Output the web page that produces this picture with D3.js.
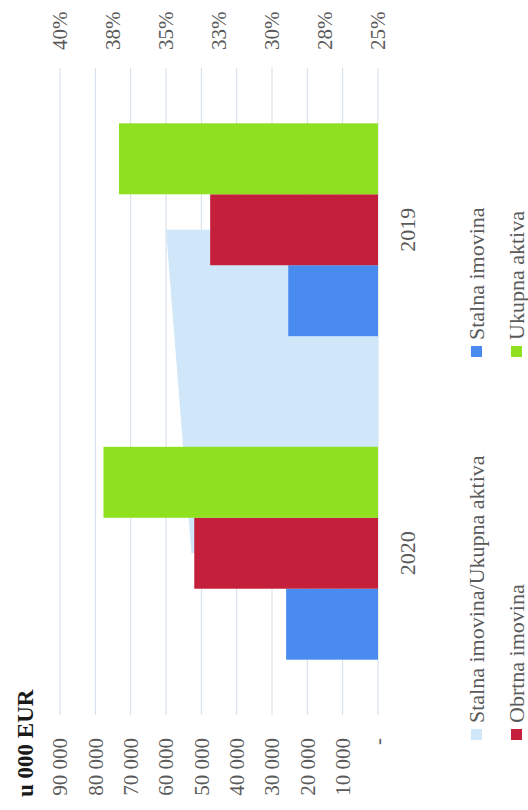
<!DOCTYPE html>
<html>
<head>
<meta charset="utf-8">
<script src="https://cdn.jsdelivr.net/npm/d3@7"></script>
<style>
  body { margin: 0; background: #fff; }
  text { font-family: "Liberation Serif", "Times New Roman", serif; }
</style>
</head>
<body>
<div id="chart"></div>
<script>
var svgWidth = 528;
var svgHeight = 810;

// chart is laid out in its own (unrotated) frame, then turned 90deg
var frameWidth = svgHeight;
var frameHeight = svgWidth;

var years = ["2020", "2019"];
var seriesNames = ["Stalna imovina", "Obrtna imovina", "Ukupna aktiva"];
var stalna = [26000, 25400];
var obrtna = [52000, 47500];
var ukupna = [77700, 73300];
var udio = [0.338, 0.350];

var valueTicks = [0, 10000, 20000, 30000, 40000, 50000, 60000, 70000, 80000, 90000];
var pctTicks = [0.25, 0.275, 0.30, 0.325, 0.35, 0.375, 0.40];
var pctLabels = ["25%", "28%", "30%", "33%", "35%", "38%", "40%"];

var colors = {
    "Stalna imovina": "#4a8bef",
    "Obrtna imovina": "#c41f3b",
    "Ukupna aktiva": "#8fe120",
    "area": "#cfe7f8"
};

var svg = d3.select("#chart")
    .append("svg")
    .attr("width", svgWidth)
    .attr("height", svgHeight);

var frame = svg.append("g")
    .attr("transform", `translate(0, ${svgHeight}) rotate(-90)`);

var plot = { left: 95, right: 742, top: 60, bottom: 378 };

var xScale = d3.scaleBand()
    .domain(years)
    .range([plot.left, plot.right])
    .paddingInner(0.342)
    .paddingOuter(0.171);

var xSeries = d3.scaleBand()
    .domain(seriesNames)
    .range([0, xScale.bandwidth()]);

var yScale = d3.scaleLinear()
    .domain([0, 90000])
    .range([plot.bottom, plot.top]);

var pctScale = d3.scaleLinear()
    .domain([0.25, 0.40])
    .range([plot.bottom, plot.top]);

// gridlines
frame.append("g")
    .selectAll("line")
    .data(valueTicks)
    .enter()
    .append("line")
    .attr("x1", plot.left)
    .attr("x2", plot.right)
    .attr("y1", d => yScale(d))
    .attr("y2", d => yScale(d))
    .attr("stroke", "#d3dde8")
    .attr("stroke-width", 1);

// share of fixed assets, as area behind the bars
var areaData = years.map((y, i) => ({ year: y, v: udio[i] }));
var areaGen = d3.area()
    .x(d => xScale(d.year) + xScale.bandwidth() / 2)
    .y0(pctScale(0.25))
    .y1(d => pctScale(d.v));

frame.append("path")
    .attr("d", areaGen(areaData))
    .attr("fill", colors.area);

// bars
var barData = [];
years.forEach(function(y, i) {
    barData.push({ year: y, name: "Stalna imovina", v: stalna[i] });
    barData.push({ year: y, name: "Obrtna imovina", v: obrtna[i] });
    barData.push({ year: y, name: "Ukupna aktiva", v: ukupna[i] });
});

frame.append("g")
    .selectAll("rect")
    .data(barData)
    .enter()
    .append("rect")
    .attr("x", d => xScale(d.year) + xSeries(d.name))
    .attr("width", xSeries.bandwidth())
    .attr("y", d => yScale(d.v))
    .attr("height", d => yScale(0) - yScale(d.v))
    .attr("fill", d => colors[d.name]);

// left value axis labels
frame.append("g")
    .selectAll("text")
    .data(valueTicks)
    .enter()
    .append("text")
    .attr("x", 72)
    .attr("y", d => yScale(d))
    .attr("dy", "0.35em")
    .attr("text-anchor", "end")
    .attr("font-size", 21)
    .attr("fill", "#595959")
    .text(d => d === 0 ? "-" : d3.format(",")(d).replace(/,/g, " "));

// right percentage axis labels
frame.append("g")
    .selectAll("text")
    .data(pctTicks)
    .enter()
    .append("text")
    .attr("x", 760)
    .attr("y", d => pctScale(d))
    .attr("dy", "0.35em")
    .attr("text-anchor", "start")
    .attr("font-size", 21)
    .attr("fill", "#595959")
    .text((d, i) => pctLabels[i]);

// category labels
frame.append("g")
    .selectAll("text")
    .data(years)
    .enter()
    .append("text")
    .attr("x", d => xScale(d) + xScale.bandwidth() / 2)
    .attr("y", 415)
    .attr("text-anchor", "middle")
    .attr("font-size", 22)
    .attr("fill", "#595959")
    .text(d => d);

// unit title
frame.append("text")
    .attr("x", 13)
    .attr("y", 33)
    .attr("font-size", 23)
    .attr("font-weight", "bold")
    .attr("fill", "#1a1a1a")
    .text("u 000 EUR");

// legend
var legendItems = [
    { label: "Stalna imovina/Ukupna aktiva", color: colors.area, x: 70, y: 477 },
    { label: "Stalna imovina", color: colors["Stalna imovina"], x: 453, y: 477 },
    { label: "Obrtna imovina", color: colors["Obrtna imovina"], x: 70, y: 517 },
    { label: "Ukupna aktiva", color: colors["Ukupna aktiva"], x: 453, y: 517 }
];

var legend = frame.append("g")
    .selectAll("g")
    .data(legendItems)
    .enter()
    .append("g")
    .attr("transform", d => `translate(${d.x}, ${d.y})`);

legend.append("rect")
    .attr("x", 0)
    .attr("y", -6)
    .attr("width", 11)
    .attr("height", 11)
    .attr("fill", d => d.color);

legend.append("text")
    .attr("x", 17)
    .attr("y", 7)
    .attr("font-size", 22)
    .attr("fill", "#595959")
    .text(d => d.label);
</script>
</body>
</html>
